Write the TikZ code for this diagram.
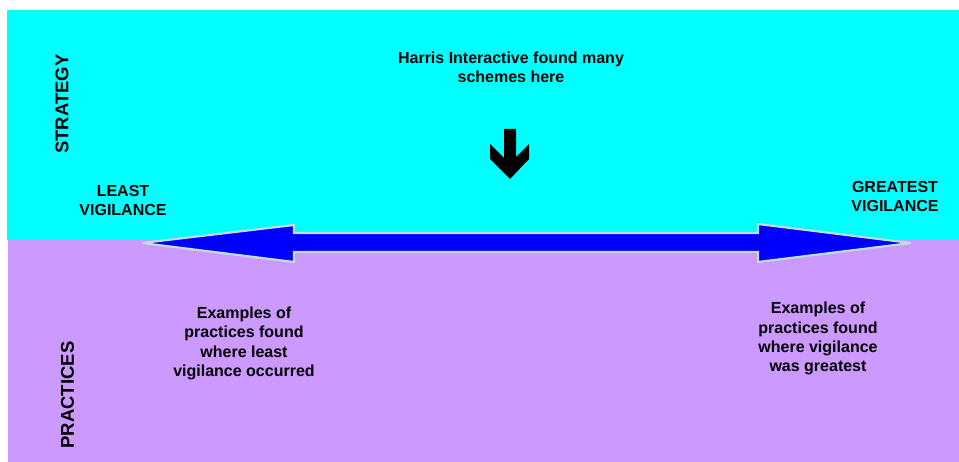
\documentclass[tikz,border=0pt]{standalone}
\usepackage{fontspec}
\setmainfont{Liberation Sans}
\definecolor{bandtop}{HTML}{00FFFF}
\definecolor{bandbottom}{HTML}{CC99FF}
\definecolor{axisblue}{HTML}{0000FF}
\definecolor{axisedge}{HTML}{C0DCDC}
\begin{document}
\begin{tikzpicture}[x=1pt,y=-1pt,
  lbl/.style={font=\fontsize{16}{19.5}\selectfont\bfseries, align=center, inner sep=0pt, anchor=base},
  side/.style={font=\fontsize{18.5}{22}\selectfont\bfseries, rotate=90, inner sep=0pt}]
\useasboundingbox (0,0) rectangle (959,462);
% two bands: strategy above, practices below
\fill[bandtop] (7,10) rectangle (959,240);
\fill[bandbottom] (8,240) rectangle (959,462);

% side labels
\node[side] (strategy) at (62,104) {STRATEGY};
\node[side] (practices) at (67.5,395) {PRACTICES};

% vigilance scale: double-headed arrow
\draw[axisedge, line width=2.2pt, fill=axisblue, line join=miter, miter limit=4]
  (142,243) -- (294,225) -- (294,233) -- (758,233) -- (758,224) -- (911,243)
  -- (758,262) -- (758,252) -- (294,252) -- (294,262) -- cycle;

% marker pointing down at the scale
\fill[black] (504,129) -- (516,129) -- (516,157) -- (529,144) -- (529,159)
  -- (510,179) -- (490,159) -- (490,144) -- (504,158) -- cycle;

% labels (anchored at the baseline of their last line)
\node[lbl] (harris) at (511,83) {Harris Interactive found many\\schemes here};
\node[lbl] (least) at (123,216) {LEAST\\VIGILANCE};
\node[lbl] (greatest) at (895,212) {GREATEST\\VIGILANCE};
\node[lbl] (exleast) at (244,377) {Examples of\\practices found\\where least\\vigilance occurred};
\node[lbl] (exgreat) at (818,372) {Examples of\\practices found\\where vigilance\\was greatest};
\end{tikzpicture}
\end{document}
